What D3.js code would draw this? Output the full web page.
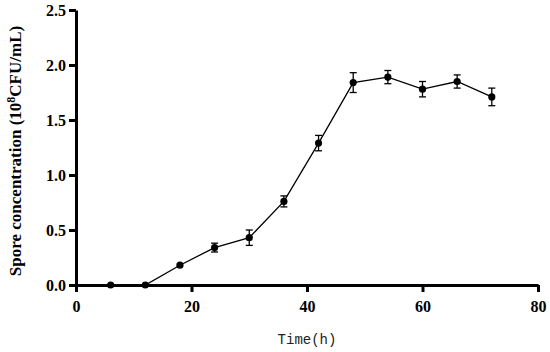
<!DOCTYPE html>
<html>
<head>
<meta charset="utf-8">
<script src="https://cdn.jsdelivr.net/npm/d3@7"></script>
<style>
  body { margin: 0; background: #fff; }
  svg { display: block; }
  .axis path, .axis line { stroke: #000; stroke-width: 3; }
  .axis text { font-family: "Liberation Serif", serif; font-weight: bold; font-size: 16px; fill: #000; }
</style>
</head>
<body>
<svg id="chart" width="550" height="352"></svg>
<script>
// sampling times (h)
var hours = [6, 12, 18, 24, 30, 36, 42, 48, 54, 60, 66, 72]
// spore concentration (10^8 CFU/mL)
var concentration = [0, 0, 0.18, 0.34, 0.43, 0.76, 1.29, 1.84, 1.89, 1.78, 1.85, 1.71]
// standard deviation
var errors = [0, 0, 0.01, 0.04, 0.07, 0.05, 0.07, 0.09, 0.06, 0.07, 0.06, 0.08]
var xTicks = [0, 20, 40, 60, 80]
var yTicks = [0, 0.5, 1.0, 1.5, 2.0, 2.5]

var svg = d3.select('#chart')
var margin = {top: 10, right: 12, bottom: 67, left: 76}
var width = 550 - margin.left - margin.right
var height = 352 - margin.top - margin.bottom

var g = svg.append('g').attr('transform', 'translate(' + margin.left + ',' + margin.top + ')')

var x = d3.scaleLinear().domain([0, 80]).range([0, width])
var y = d3.scaleLinear().domain([0, 2.5]).range([height, 0])

// X axis
g.append('g')
    .attr('class', 'axis')
    .attr('transform', 'translate(0,' + height + ')')
    .call(d3.axisBottom(x).tickValues(xTicks).tickSize(7).tickSizeOuter(0).tickPadding(9).tickFormat(d3.format('d')))

// Y axis
g.append('g')
    .attr('class', 'axis')
    .call(d3.axisLeft(y).tickValues(yTicks).tickSize(7).tickSizeOuter(0).tickPadding(3).tickFormat(d3.format('.1f')))

var data = hours.map(function(h, i) { return {h: h, v: concentration[i], e: errors[i]} })

// error bars
var eb = g.append('g').attr('stroke', '#000').attr('stroke-width', 1.3)
data.forEach(function(d) {
    if (d.e <= 0.015) return
    var cx = x(d.h)
    eb.append('line').attr('x1', cx).attr('x2', cx).attr('y1', y(d.v - d.e)).attr('y2', y(d.v + d.e))
    eb.append('line').attr('x1', cx - 3.5).attr('x2', cx + 3.5).attr('y1', y(d.v - d.e)).attr('y2', y(d.v - d.e))
    eb.append('line').attr('x1', cx - 3.5).attr('x2', cx + 3.5).attr('y1', y(d.v + d.e)).attr('y2', y(d.v + d.e))
})

var line = d3.line()
    .x(function(d) { return x(d.h) })
    .y(function(d) { return y(d.v) })

g.append('path')
    .datum(data)
    .attr('fill', 'none')
    .attr('stroke', '#000')
    .attr('stroke-width', 1.3)
    .attr('d', line)

g.selectAll('circle.pt')
    .data(data)
    .enter().append('circle')
    .attr('class', 'pt')
    .attr('cx', function(d) { return x(d.h) })
    .attr('cy', function(d) { return y(d.v) })
    .attr('r', 3.6)
    .attr('fill', '#000')

// X title
svg.append('text')
    .attr('x', margin.left + width / 2)
    .attr('y', 344)
    .attr('text-anchor', 'middle')
    .style('font-family', '"Liberation Mono", monospace')
    .style('font-size', '14px')
    .style('fill', '#222')
    .text('Time(h)')

// Y title
var yt = svg.append('text')
    .attr('transform', 'translate(21,' + 151 + ') rotate(-90)')
    .attr('text-anchor', 'middle')
    .style('font-family', '"Liberation Serif", serif')
    .style('font-weight', 'bold')
    .style('font-size', '17px')
yt.append('tspan').text('Spore concentration (10')
yt.append('tspan').attr('dy', -6).style('font-size', '12px').text('8')
yt.append('tspan').attr('dy', 6).text('CFU/mL)')
</script>
</body>
</html>
